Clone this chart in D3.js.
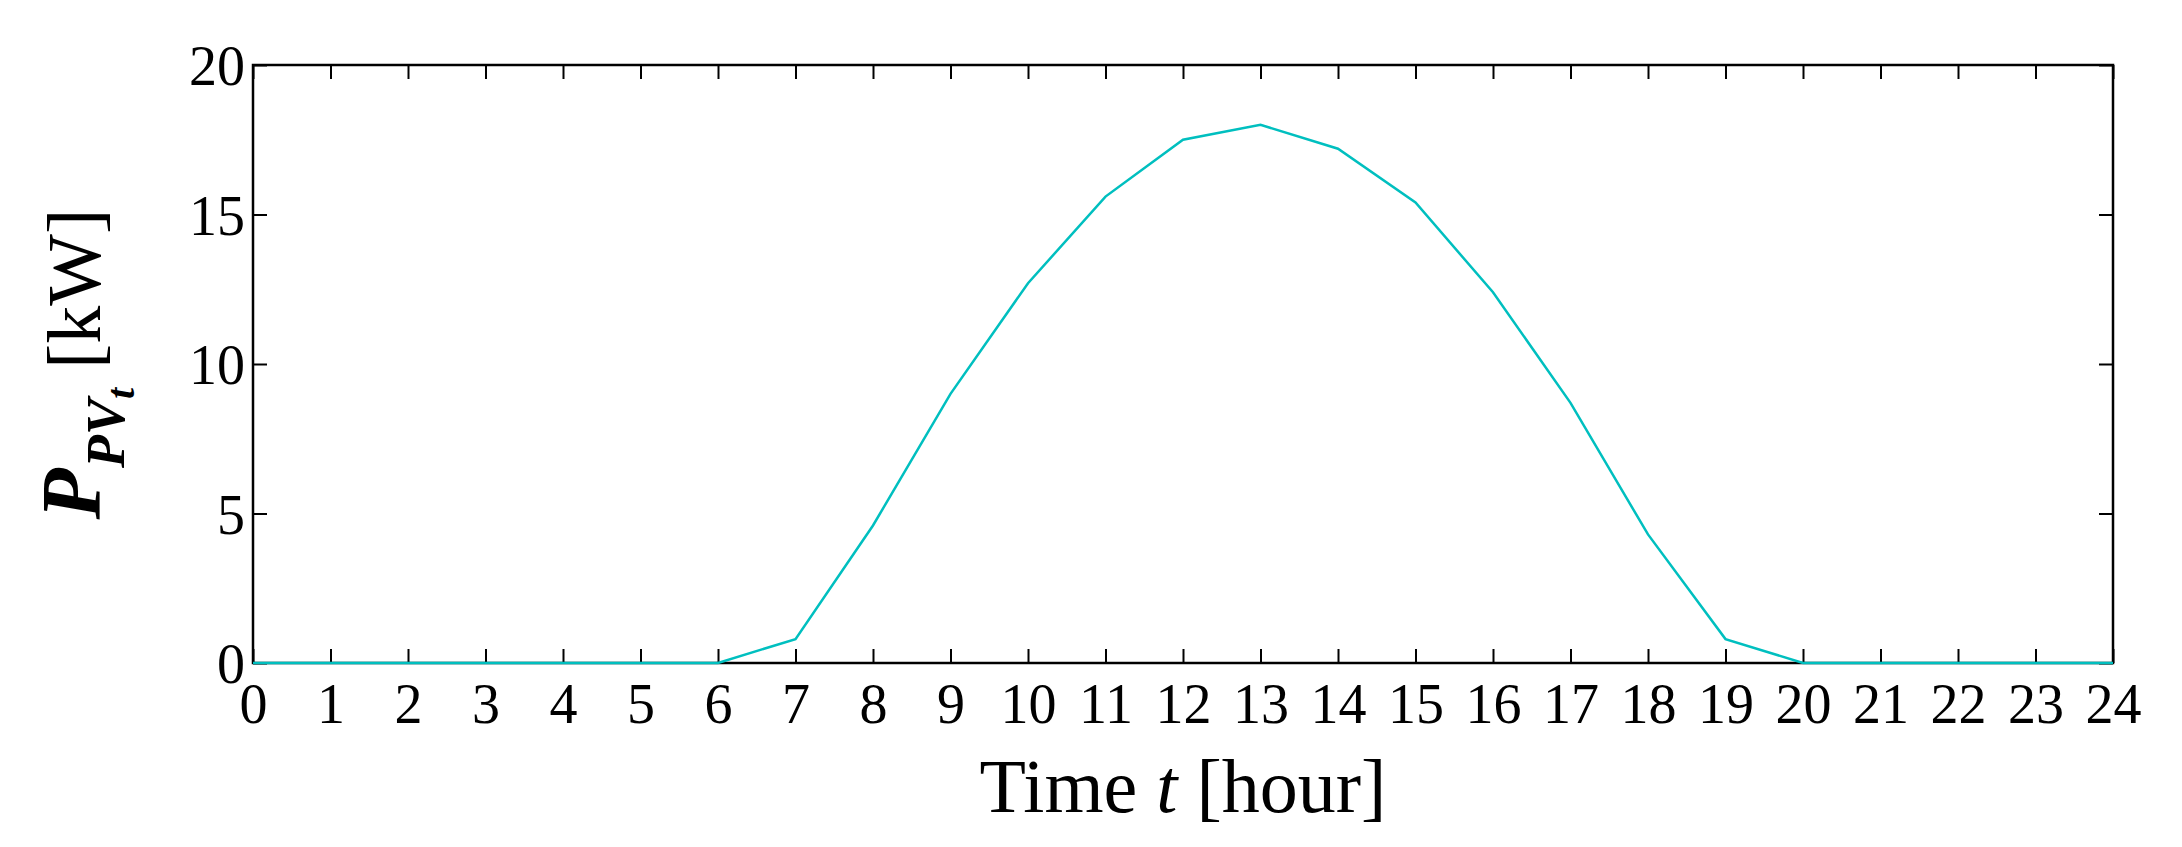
<!DOCTYPE html><html><head><meta charset="utf-8"><script src="https://cdn.jsdelivr.net/npm/d3@7"></script>
<style>body{margin:0;background:#fff}text{font-family:"Liberation Serif","Times New Roman",serif}</style></head><body>
<svg id="c" width="2182" height="847"></svg>
<script>
const hours=d3.range(0,25);
const power=[0,0,0,0,0,0,0,0.8,4.6,9.0,12.7,15.6,17.5,18.0,17.2,15.4,12.4,8.7,4.3,0.8,0,0,0,0,0];
const yTicks=[0,5,10,15,20];
const svg=d3.select("#c");
const L=253,R=2113,T=65,B=663;
const x=d3.scaleLinear().domain([0,24]).range([L,R]);
const y=d3.scaleLinear().domain([0,20]).range([B,T]);
const tl=14;
const g=svg.append("g");
g.append("rect").attr("x",L).attr("y",T).attr("width",R-L).attr("height",B-T).attr("fill","none").attr("stroke","#000").attr("stroke-width",2.5);
const xb=g.append("g").attr("transform",`translate(0,${B})`).call(d3.axisBottom(x).tickValues(hours).tickSize(-tl).tickPadding(tl+4).tickFormat(d3.format("d")));
const xt=g.append("g").attr("transform",`translate(0,${T})`).call(d3.axisTop(x).tickValues(hours).tickSize(-tl).tickFormat(""));
const yl=g.append("g").attr("transform",`translate(${L},0)`).call(d3.axisLeft(y).tickValues(yTicks).tickSize(-tl).tickPadding(8));
const yr=g.append("g").attr("transform",`translate(${R},0)`).call(d3.axisRight(y).tickValues(yTicks).tickSize(-tl).tickFormat(""));
[xb,xt,yl,yr].forEach(a=>{a.select(".domain").remove();a.selectAll("line").attr("stroke","#000").attr("stroke-width",2);a.selectAll("text").attr("font-size",56).attr("fill","#000").style("font-family","Liberation Serif");});
yl.selectAll("text").attr("dy","0.35em");
xb.selectAll("text").attr("dy","0.75em");
g.append("path").datum(hours).attr("fill","none").attr("stroke","#00BFBF").attr("stroke-width",2.5)
 .attr("d",d3.line().x(d=>x(d)).y(d=>y(power[d])));
const xl=svg.append("text").attr("x",(L+R)/2).attr("y",812).attr("text-anchor","middle").attr("font-size",76);
xl.append("tspan").text("Time  ");xl.append("tspan").attr("font-style","italic").text("t");xl.append("tspan").text(" [hour]");
const ylab=svg.append("text").attr("transform",`translate(100,${(T+B)/2}) rotate(-90)`).attr("text-anchor","middle").attr("font-size",76);
ylab.append("tspan").attr("font-style","italic").attr("font-weight","bold").attr("font-size",84).text("P");
ylab.append("tspan").attr("font-style","italic").attr("font-weight","bold").attr("font-size",54).attr("dy",24).text("PV");
ylab.append("tspan").attr("font-style","italic").attr("font-weight","bold").attr("font-size",40).attr("dy",10).text("t");
ylab.append("tspan").attr("dy",-34).text(" [kW]");
</script></body></html>
